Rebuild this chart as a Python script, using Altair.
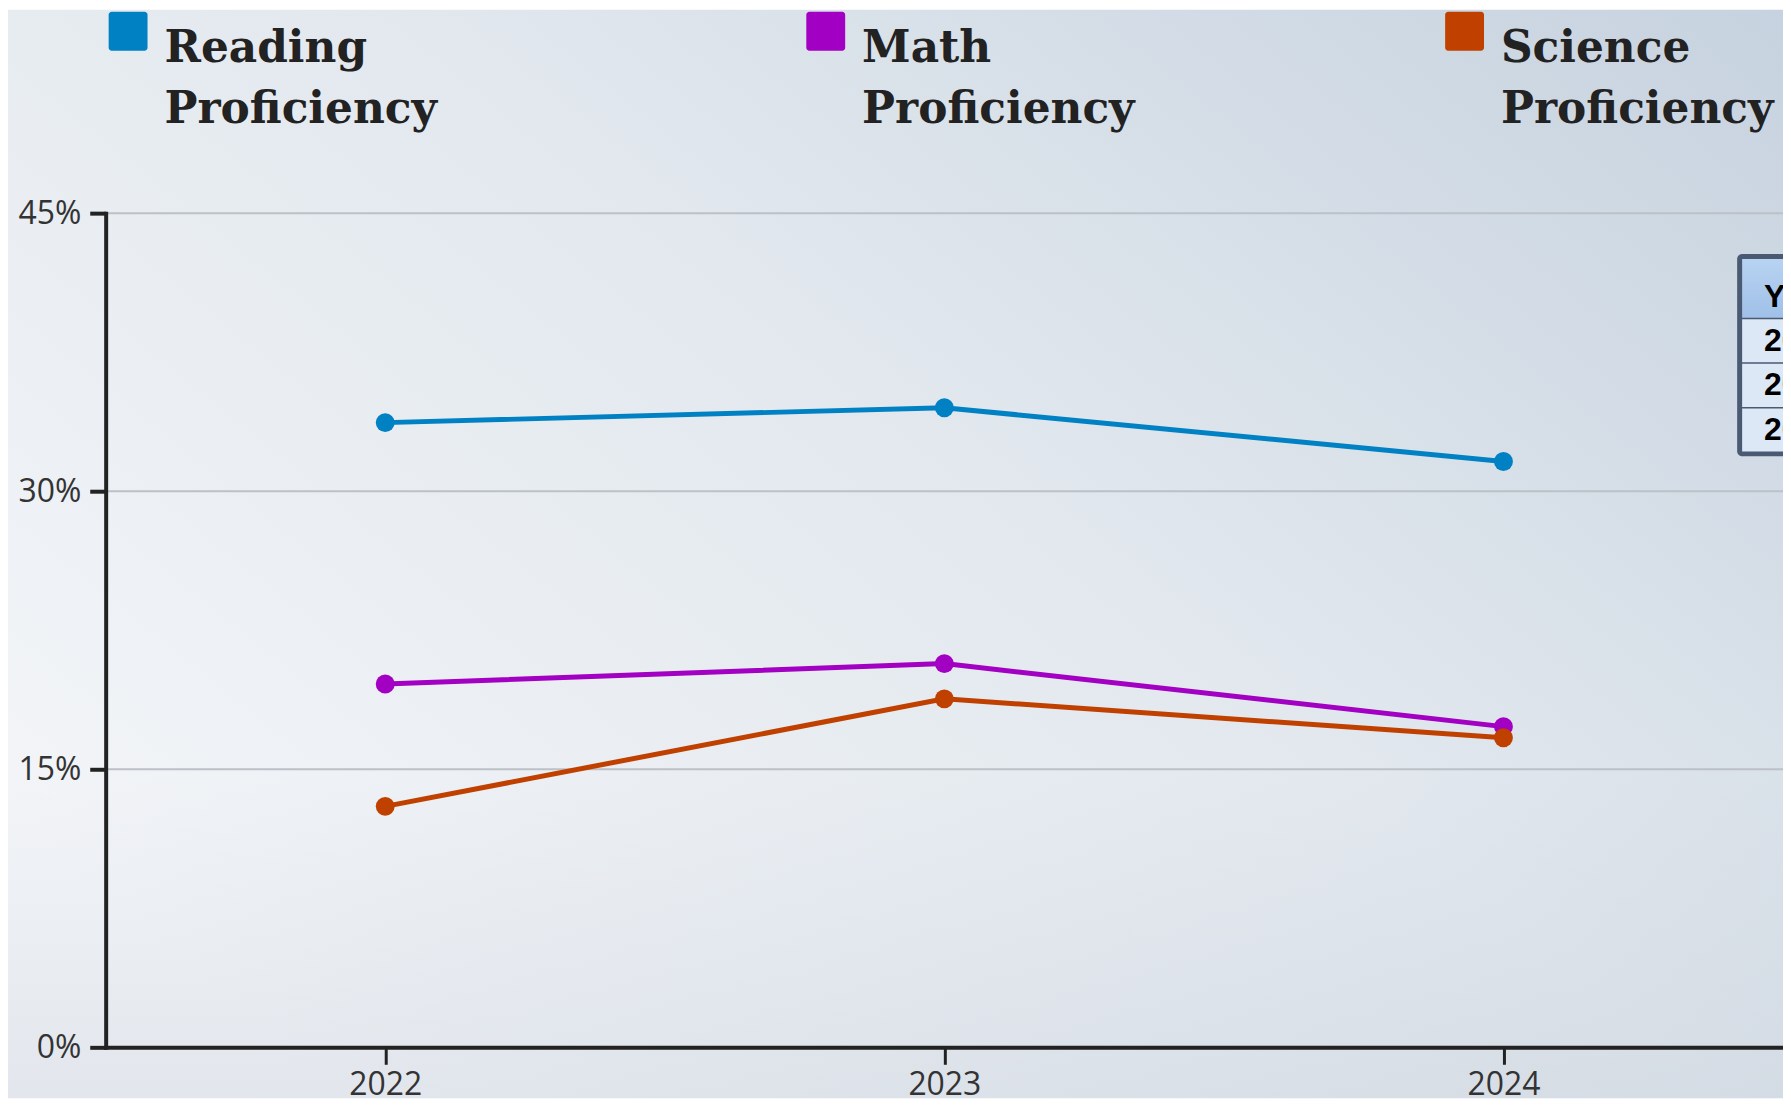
import altair as alt
import pandas as pd

# ---------------- data ----------------
years = ["2022", "2023", "2024"]
series = ["Reading Proficiency", "Math Proficiency", "Science Proficiency"]
reading = [33.7, 34.5, 31.6]
math = [19.6, 20.7, 17.3]
science = [13.0, 18.8, 16.7]
colors = ["#0081C3", "#A200C2", "#C04000"]
y_ticks = [0, 15, 30, 45]
grid_values = [15, 30, 45]
table_header = "Year"
table_rows = years

rows = []
for s, vals in zip(series, [reading, math, science]):
    for yr, v in zip(years, vals):
        rows.append({"series": s, "year": yr, "value": v})
df = pd.DataFrame(rows)

# ---------------- layout ----------------
W, H = 1683, 837
PAD_L, PAD_T, PAD_B = 98, 204, 51

x_scale = alt.Scale(type="point", padding=0.5, domain=years)
y_scale = alt.Scale(domain=[0, 45], nice=False, zero=True)
color_scale = alt.Scale(domain=series, range=colors)

x_axis = alt.Axis(labelAngle=0, tickSize=17, tickWidth=3, labelPadding=5,
                  zindex=1, labelColor="#333333")
y_axis = alt.Axis(values=y_ticks, labelExpr="datum.value + '%'",
                  tickSize=16, tickWidth=4, labelPadding=9, grid=False,
                  zindex=1, labelColor="#333333")

one = pd.DataFrame({"k": [0]})

# background gradient covering the whole chart
bg = alt.Chart(one).mark_rect(
    fill=alt.LinearGradient(
        gradient="linear", x1=0, y1=0.75, x2=1, y2=0,
        stops=[alt.GradientStop(offset=0, color="#f3f5f8"),
               alt.GradientStop(offset=0.5, color="#e2e8ee"),
               alt.GradientStop(offset=1, color="#c6d2df")]),
    clip=False,
).encode(x=alt.value(-PAD_L), x2=alt.value(W + 20),
         y=alt.value(-PAD_T), y2=alt.value(H + PAD_B))

bg2 = alt.Chart(one).mark_rect(
    fill=alt.LinearGradient(
        gradient="linear", x1=0, y1=0, x2=0, y2=1,
        stops=[alt.GradientStop(offset=0, color="rgba(150,165,185,0)"),
               alt.GradientStop(offset=0.7, color="rgba(150,165,185,0)"),
               alt.GradientStop(offset=1, color="rgba(150,165,185,0.18)")]),
    clip=False,
).encode(x=alt.value(-PAD_L), x2=alt.value(W + 20),
         y=alt.value(-PAD_T), y2=alt.value(H + PAD_B))

grid = alt.Chart(pd.DataFrame({"value": grid_values})).mark_rule(
    color="#bcc1c7", strokeWidth=2
).encode(y=alt.Y("value:Q", scale=y_scale, axis=y_axis, title=None))

lines = alt.Chart(df).mark_line(strokeWidth=5).encode(
    x=alt.X("year:O", scale=x_scale, title=None, axis=x_axis),
    y=alt.Y("value:Q", scale=y_scale, title=None, axis=y_axis),
    color=alt.Color("series:N", scale=color_scale, legend=None),
    detail="series:N",
)

points = alt.Chart(df).mark_circle(size=360, opacity=1).encode(
    x=alt.X("year:O", scale=x_scale, title=None, axis=x_axis),
    y=alt.Y("value:Q", scale=y_scale, title=None, axis=y_axis),
    color=alt.Color("series:N", scale=color_scale, legend=None),
)

# ---------------- legend (top row, drawn as marks) ----------------
legend_x = [3, 703, 1344]      # left edge of each legend square (plot coords)
legend_layers = []
for name, col, lx in zip(series, colors, legend_x):
    legend_layers.append(
        alt.Chart(one).mark_rect(fill=col, cornerRadius=3, clip=False).encode(
            x=alt.value(lx), x2=alt.value(lx + 39),
            y=alt.value(-202), y2=alt.value(-163))
    )
    legend_layers.append(
        alt.Chart(pd.DataFrame({"t": [name]})).mark_text(
            font="DejaVu Serif", fontSize=44, fontWeight="bold", color="#222222",
            align="left", baseline="alphabetic", lineBreak=" ", lineHeight=62,
            clip=False).encode(
            x=alt.value(lx + 56), y=alt.value(-152), text="t:N")
    )

# ---------------- partially visible table overlay ----------------
TX = 1637          # table left edge (plot coords)
TY = 41            # table top
ROW0 = 105         # header bottom
ROWH = 44.7
table_layers = []
table_layers.append(
    alt.Chart(one).mark_rect(fill="#4a5a73", cornerRadius=5, clip=False).encode(
        x=alt.value(TX), x2=alt.value(TX + 200), y=alt.value(TY), y2=alt.value(TY + 203))
)
table_layers.append(
    alt.Chart(one).mark_rect(
        fill=alt.LinearGradient(
            gradient="linear", x1=0, y1=0, x2=0, y2=1,
            stops=[alt.GradientStop(offset=0, color="#b8d3f2"),
                   alt.GradientStop(offset=1, color="#a0c0e8")]),
        clip=False).encode(
        x=alt.value(TX + 5), x2=alt.value(TX + 200), y=alt.value(TY + 5), y2=alt.value(ROW0))
)
table_layers.append(
    alt.Chart(pd.DataFrame({"t": [table_header]})).mark_text(
        font="Liberation Sans", fontSize=32, fontWeight="bold", color="#000000",
        align="left", baseline="alphabetic", clip=False).encode(
        x=alt.value(TX + 27), y=alt.value(94), text="t:N")
)
for i, lab in enumerate(table_rows):
    y0 = ROW0 + i * ROWH
    table_layers.append(
        alt.Chart(one).mark_rect(fill="#dce8f5", clip=False).encode(
            x=alt.value(TX + 5), x2=alt.value(TX + 200),
            y=alt.value(y0 + 1.5), y2=alt.value(y0 + ROWH))
    )
    table_layers.append(
        alt.Chart(pd.DataFrame({"t": [lab]})).mark_text(
            font="Liberation Sans", fontSize=32, fontWeight="bold", color="#000000",
            align="left", baseline="alphabetic", clip=False).encode(
            x=alt.value(TX + 27), y=alt.value(y0 + 33), text="t:N")
    )

chart = alt.layer(bg, bg2, grid, lines, points, *legend_layers, *table_layers).properties(
    width=W, height=H,
    autosize=alt.AutoSizeParams(type="none"),
    padding={"left": PAD_L, "top": PAD_T, "right": 0, "bottom": PAD_B},
).configure(
    background="transparent",
).configure_view(stroke=None).configure_axis(
    domainColor="#222222", domainWidth=4, domainCap="square",
    tickColor="#222222",
    labelFont="Open Sans", labelFontSize=32, labelColor="#333333",
    grid=False,
)

chart.save("out.html", embed_options={"renderer": "svg", "actions": False})
